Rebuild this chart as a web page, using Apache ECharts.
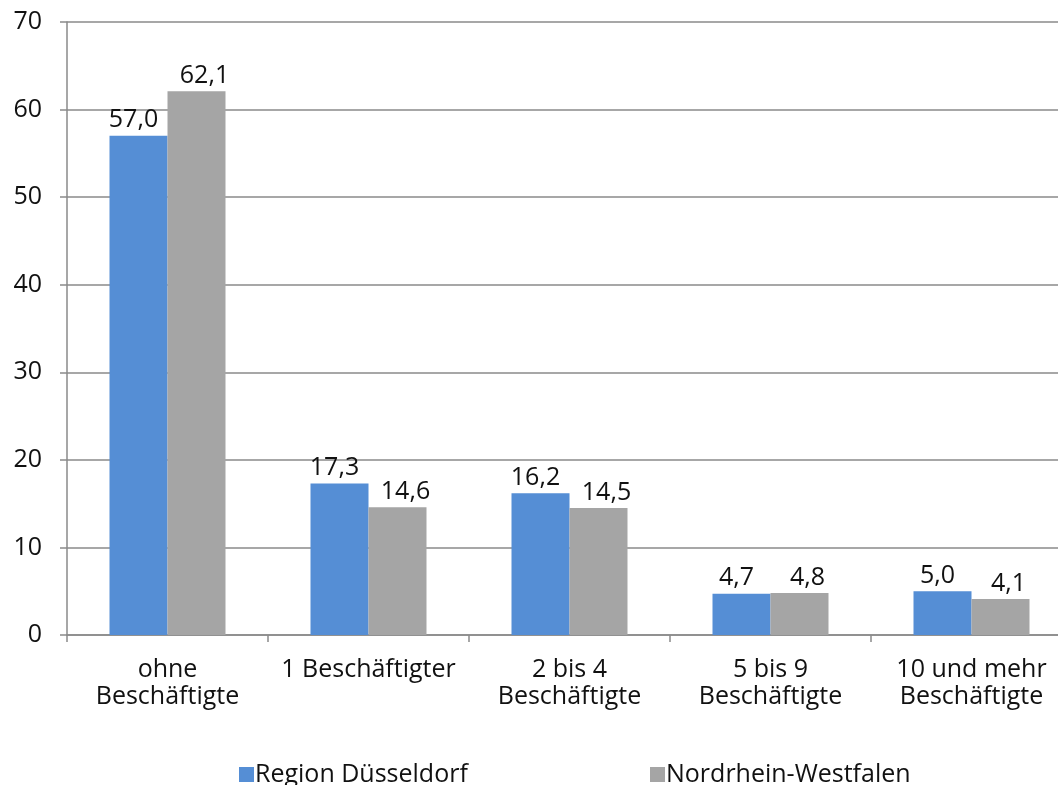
<!DOCTYPE html>
<html>
<head>
<meta charset="utf-8">
<script src="https://cdn.jsdelivr.net/npm/echarts@6/dist/echarts.min.js"></script>
<style>
  html, body { margin: 0; padding: 0; background: #fff; overflow: hidden; }
  /* the plot runs past the right edge of the window, like in the source */
  #main { width: 1072px; height: 785px; }
</style>
</head>
<body>
<div id="main"></div>
<script>
var categories = ['ohne\nBeschäftigte', '1 Beschäftigter', '2 bis 4\nBeschäftigte', '5 bis 9\nBeschäftigte', '10 und mehr\nBeschäftigte'];
var regionDuesseldorf = [57.0, 17.3, 16.2, 4.7, 5.0];
var nrw = [62.1, 14.6, 14.5, 4.8, 4.1];
var seriesNames = ['Region Düsseldorf', 'Nordrhein-Westfalen'];

var fontFamily = '"Open Sans", "Noto Sans", sans-serif';

var myChart = echarts.init(document.getElementById('main'));

function fmt(p) {
  return p.value.toFixed(1).replace('.', ',');
}

var option = {
  animation: false,
  textStyle: { fontFamily: fontFamily },
  grid: {
    left: 67,
    top: 22,
    right: 0,
    bottom: 150,
    containLabel: false
  },
  legend: [
    {
      data: [seriesNames[0]],
      left: 234,
      top: 757,
      itemWidth: 15,
      itemHeight: 15,
      icon: 'rect',
      textStyle: { fontSize: 25, color: '#111', fontFamily: fontFamily, padding: [0, 0, 0, -4] }
    },
    {
      data: [seriesNames[1]],
      left: 645,
      top: 757,
      itemWidth: 15,
      itemHeight: 15,
      icon: 'rect',
      textStyle: { fontSize: 25, color: '#111', fontFamily: fontFamily, padding: [0, 0, 0, -4] }
    }
  ],
  xAxis: {
    type: 'category',
    data: categories,
    axisLine: { lineStyle: { color: '#8a8a8a', width: 1.5 } },
    axisTick: { show: true, length: 7, lineStyle: { color: '#8a8a8a', width: 1.5 } },
    axisLabel: {
      color: '#111',
      fontSize: 25,
      lineHeight: 27,
      margin: 21,
      interval: 0
    }
  },
  yAxis: {
    type: 'value',
    min: 0,
    max: 70,
    interval: 10,
    axisLine: { show: true, lineStyle: { color: '#8a8a8a', width: 1.5 } },
    axisTick: { show: true, length: 7, lineStyle: { color: '#8a8a8a', width: 1.5 } },
    splitLine: { lineStyle: { color: '#8a8a8a', width: 1.5 } },
    axisLabel: { color: '#111', fontSize: 25, margin: 25 }
  },
  series: [
    {
      name: seriesNames[0],
      type: 'bar',
      data: regionDuesseldorf,
      barWidth: 58,
      barGap: '0%',
      itemStyle: { color: '#558ed5' },
      label: { show: true, position: 'top', distance: 3, color: '#111', fontSize: 25, formatter: fmt, offset: [-5, 0] }
    },
    {
      name: seriesNames[1],
      type: 'bar',
      data: nrw,
      barWidth: 58,
      barGap: '0%',
      itemStyle: { color: '#a5a5a5' },
      label: { show: true, position: 'top', distance: 3, color: '#111', fontSize: 25, formatter: fmt, offset: [8, 0] }
    }
  ]
};

myChart.setOption(option);
</script>
</body>
</html>
